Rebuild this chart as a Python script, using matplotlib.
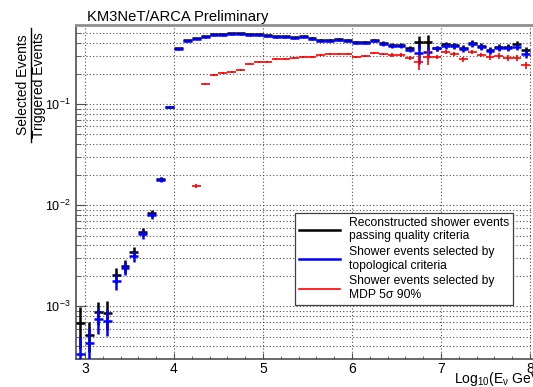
import numpy as np
import matplotlib
matplotlib.use("Agg")
import matplotlib.pyplot as plt
from matplotlib.lines import Line2D
from matplotlib.ticker import MultipleLocator, NullFormatter, FixedLocator

plt.rcParams['font.family'] = ['Liberation Sans', 'DejaVu Sans']
plt.rcParams['mathtext.default'] = 'regular'

# bins of log10(E/GeV), width 0.1, from 2.9 to 8.0
bin_low = 2.9
bin_width = 0.1
n_bins = 51

# reconstructed shower events passing quality criteria (black)
quality = [6.8e-4, 5.2e-4, 8.7e-4, 8.5e-4, 2.03e-3, 2.49e-3, 3.43e-3, 5.4e-3, 8.3e-3, 0.0181, 0.094,
           0.356, 0.428, 0.448, 0.468, 0.489, 0.489, 0.500, 0.500, 0.489, 0.489,
           0.478, 0.468, 0.468, 0.457, 0.468, 0.448, 0.428, 0.428, 0.439, 0.428,
           0.410, 0.410, 0.430, 0.402, 0.384, 0.384, 0.358, 0.411, 0.411, 0.358,
           0.393, 0.384, 0.358, 0.402, 0.375, 0.342, 0.367, 0.367, 0.393, 0.342]
quality_err = [3.0e-4, 1.7e-4, 2.2e-4, 2.7e-4, 3.5e-4, 3.6e-4, 4.0e-4, 5.0e-4, 6.0e-4, 9e-4, 2.5e-3,
               0.006, 0.006, 0.006, 0.006, 0.006, 0.006, 0.006, 0.006, 0.006, 0.006,
               0.007, 0.007, 0.007, 0.007, 0.007, 0.008, 0.008, 0.008, 0.008, 0.009,
               0.010, 0.010, 0.012, 0.014, 0.016, 0.016, 0.018, 0.060, 0.070, 0.020,
               0.022, 0.022, 0.022, 0.024, 0.024, 0.024, 0.025, 0.025, 0.026, 0.028]

# shower events selected by topological criteria (blue)
topological = [3.35e-4, 4.3e-4, 7.4e-4, 7.1e-4, 1.77e-3, 2.38e-3, 3.13e-3, 5.16e-3, 7.96e-3, 0.0179, 0.0934,
               0.351, 0.421, 0.441, 0.461, 0.482, 0.482, 0.493, 0.493, 0.482, 0.482,
               0.471, 0.461, 0.461, 0.450, 0.461, 0.441, 0.421, 0.421, 0.432, 0.421,
               0.402, 0.402, 0.421, 0.393, 0.375, 0.375, 0.342, 0.320, 0.327, 0.358,
               0.375, 0.375, 0.351, 0.393, 0.367, 0.335, 0.358, 0.358, 0.367, 0.313]
topological_err = [1.6e-4, 1.75e-4, 2.15e-4, 2.0e-4, 3.3e-4, 3.5e-4, 4.0e-4, 5.0e-4, 6.0e-4, 9e-4, 2.5e-3,
                   0.006, 0.006, 0.006, 0.006, 0.006, 0.006, 0.006, 0.006, 0.006, 0.006,
                   0.007, 0.007, 0.007, 0.007, 0.007, 0.008, 0.008, 0.008, 0.008, 0.009,
                   0.010, 0.010, 0.012, 0.014, 0.016, 0.016, 0.018, 0.070, 0.040, 0.020,
                   0.022, 0.022, 0.022, 0.024, 0.024, 0.024, 0.025, 0.025, 0.026, 0.028]

# shower events selected by MDP 5 sigma 90% (red)
mdp = [np.nan] * 13 + [0.0154, 0.158, 0.194, 0.203, 0.207, 0.217, 0.249, 0.261,
                       0.261, 0.279, 0.279, 0.285, 0.292, 0.292, 0.306, 0.313, 0.313, 0.313,
                       0.292, 0.299, 0.320, 0.313, 0.306, 0.306, 0.285, 0.261, 0.292, 0.292,
                       0.327, 0.313, 0.279, 0.327, 0.306, 0.292, 0.299, 0.285, 0.285, 0.243]
mdp_err = [np.nan] * 13 + [0.0008, 0.004, 0.004, 0.004, 0.004, 0.004, 0.005, 0.005,
                           0.005, 0.005, 0.005, 0.005, 0.006, 0.006, 0.006, 0.006, 0.007, 0.007,
                           0.008, 0.008, 0.009, 0.010, 0.012, 0.012, 0.014, 0.045, 0.050, 0.015,
                           0.016, 0.016, 0.016, 0.017, 0.017, 0.018, 0.018, 0.018, 0.019, 0.020]

legend_labels = ["Reconstructed shower events\npassing quality criteria",
                 "Shower events selected by\ntopological criteria",
                 "Shower events selected by\nMDP 5\u03c3 90%"]

centers = bin_low + bin_width * (np.arange(n_bins) + 0.5)

W, H = 533, 387
fig = plt.figure(figsize=(W / 100, H / 100), dpi=100)
ax = fig.add_axes([76 / W, 28 / H, 463 / W, 334 / H])

series = [(quality, quality_err, 'black', 1.8),
          (topological, topological_err, '#0000ff', 1.8),
          (mdp, mdp_err, '#ff0000', 1.2)]
for vals, errs, col, lw in series:
    ax.errorbar(centers, vals, yerr=errs, xerr=bin_width / 2, fmt='none',
                ecolor=col, elinewidth=lw, capsize=0, zorder=3)

ax.set_yscale('log')
ax.set_xlim(2.9, 8.1)
ax.set_ylim(3.0e-4, 0.605)

ax.xaxis.set_major_locator(FixedLocator([3, 4, 5, 6, 7, 8]))
ax.xaxis.set_minor_locator(MultipleLocator(0.2))
ax.yaxis.set_minor_formatter(NullFormatter())

ax.grid(which='major', axis='x', color='#505050', linestyle=(0, (1, 2)), linewidth=0.8)
ax.grid(which='both', axis='y', color='#505050', linestyle=(0, (1, 2)), linewidth=0.8)
ax.set_axisbelow(True)

ax.tick_params(axis='both', which='both', direction='in', colors='#505050', labelcolor='black')
ax.tick_params(axis='x', which='major', length=4.5, labelsize=10, pad=2)
ax.tick_params(axis='x', which='minor', length=2.5)
ax.tick_params(axis='y', which='major', length=7, labelsize=9, pad=4)
ax.tick_params(axis='y', which='minor', length=3.5)

for side in ['left', 'bottom']:
    ax.spines[side].set_color('#505050')
    ax.spines[side].set_linewidth(1.2)
ax.spines['top'].set_color('#909090')
ax.spines['top'].set_linewidth(2)
ax.spines['right'].set_color('#909090')

# title and axis titles (ROOT style)
fig.text(87 / W, 1 - 21 / H, "KM3NeT/ARCA Preliminary", fontsize=10.6, va='baseline', ha='left')
fig.text(454 / W, 1 - 383 / H, r"Log$_{10}$(E$_{\nu}$ GeV)", fontsize=10, va='baseline', ha='left')

fig.text(23.5 / W, 1 - 85 / H, "Selected Events", rotation=90, fontsize=10, ha='center', va='center')
fig.text(39.5 / W, 1 - 85 / H, "Triggered Events", rotation=90, fontsize=10, ha='center', va='center')
fig.add_artist(Line2D([31 / W, 31 / W], [1 - 142 / H, 1 - 28 / H], transform=fig.transFigure,
                      color='black', linewidth=1.0))

handles = [Line2D([], [], color='black', lw=1.8),
           Line2D([], [], color='#0000ff', lw=1.8),
           Line2D([], [], color='#ff0000', lw=1.2)]
leg = ax.legend(handles, legend_labels, loc='upper left',
                bbox_to_anchor=(295 / W, 1 - 213 / H), bbox_transform=fig.transFigure,
                fontsize=8.7, frameon=True, fancybox=False, framealpha=1,
                edgecolor='#404040', borderpad=0.3, handlelength=3.4, handletextpad=0.8,
                labelspacing=0.3, borderaxespad=0)
leg.get_frame().set_linewidth(0.9)

fig.savefig("out.png", dpi=100)
